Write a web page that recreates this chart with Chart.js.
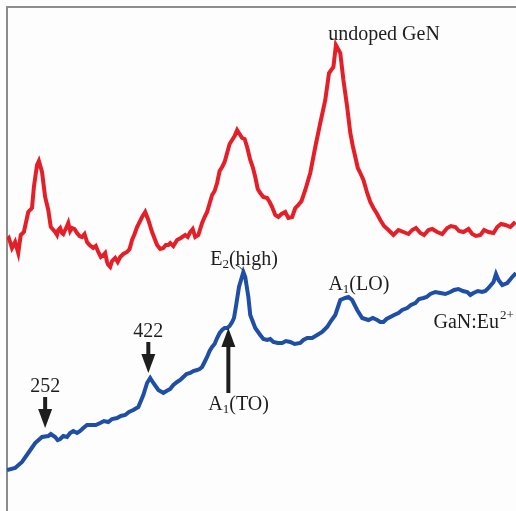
<!DOCTYPE html>
<html>
<head>
<meta charset="utf-8">
<script src="https://cdn.jsdelivr.net/npm/chart.js@4.4.1/dist/chart.umd.min.js"></script>
<style>
  html, body { margin: 0; padding: 0; background: #fdfdfd; }
  canvas { display: block; }
</style>
</head>
<body>
<canvas id="ramanChart" width="516" height="511"></canvas>
<script>
// Raman spectra: undoped GaN (red) and GaN:Eu2+ (blue), shift in cm-1, intensity in a.u.

var undopedShift = [
  190, 193, 198, 203, 208, 212, 217, 224, 230, 233,
  238, 241, 246, 251, 256, 260, 267, 270, 272, 275,
  278, 280, 283, 286, 288, 291, 294, 298, 302, 306,
  310, 314, 318, 322, 328, 332, 336, 340, 344, 347,
  350, 352, 355, 358, 363, 367, 371, 376, 382, 386,
  390, 394, 398, 406, 411, 416, 422, 430, 435, 440,
  444, 448, 451, 456, 462, 468, 475, 479, 483, 487,
  491, 496, 502, 506, 510, 518, 522, 526, 530, 534,
  538, 542, 546, 550, 554, 558, 566, 570, 574, 579,
  583, 587, 591, 595, 600, 606, 610, 614, 619, 624,
  629, 635, 640, 646, 651, 656, 661, 667, 675, 683,
  691, 699, 705, 712, 716, 723, 728, 734, 739, 743,
  747, 751, 755, 760, 766, 771, 776, 781, 787, 793,
  800, 808, 816, 824, 832, 838, 844, 851, 857, 864,
  870, 878, 886, 894, 900, 907, 913, 920, 928, 934,
  940, 947, 953, 960, 968, 974, 980, 987, 995, 1003
];
var undopedIntensity = [
  271, 273, 263, 269, 258, 276, 279, 299, 303, 324,
  346, 350, 339, 314, 301, 284, 279, 276, 281, 283,
  278, 277, 281, 285, 288, 280, 283, 282, 278, 275,
  274, 277, 269, 266, 263, 265, 259, 254, 256, 258,
  249, 246, 244, 250, 253, 249, 254, 257, 259, 262,
  271, 277, 284, 294, 299, 291, 279, 266, 262, 263,
  266, 266, 268, 265, 271, 273, 276, 274, 279, 282,
  274, 276, 288, 294, 299, 316, 320, 328, 340, 344,
  349, 358, 367, 371, 375, 381, 373, 372, 364, 351,
  344, 334, 322, 318, 314, 313, 309, 304, 296, 294,
  297, 299, 293, 294, 303, 306, 310, 321, 338, 364,
  388, 411, 438, 444, 466, 458, 431, 404, 378, 365,
  354, 343, 338, 331, 318, 309, 303, 298, 291, 285,
  281, 276, 281, 279, 277, 281, 283, 278, 276, 281,
  282, 279, 277, 283, 285, 284, 280, 279, 282, 277,
  275, 276, 281, 279, 278, 284, 287, 286, 284, 289
];

var dopedShift = [
  190, 203, 214, 224, 235, 246, 256, 260, 267, 271,
  275, 280, 286, 291, 296, 302, 307, 312, 318, 326,
  332, 339, 345, 352, 358, 366, 372, 379, 385, 392,
  400, 408, 414, 419, 424, 432, 440, 445, 451, 456,
  462, 467, 472, 477, 483, 488, 494, 498, 502, 506,
  510, 514, 518, 522, 526, 530, 534, 538, 542, 546,
  550, 553, 556, 561, 568, 571, 576, 579, 587, 595,
  600, 606, 611, 616, 623, 630, 636, 643, 650, 659,
  664, 670, 678, 686, 694, 702, 708, 715, 723, 731,
  736, 742, 750, 758, 768, 775, 782, 787, 792, 797,
  803, 809, 816, 822, 830, 836, 843, 849, 856, 861,
  867, 875, 883, 891, 899, 905, 912, 919, 926, 931,
  936, 943, 950, 955, 960, 968, 972, 976, 982, 990,
  998, 1004
];
var dopedIntensity = [
  41, 43, 49, 58, 68, 74, 75, 77, 74, 71,
  72, 75, 74, 78, 80, 78, 80, 83, 86, 86,
  86, 88, 90, 89, 92, 93, 95, 96, 99, 101,
  104, 116, 128, 133, 128, 121, 118, 120, 122, 126,
  129, 131, 134, 137, 138, 140, 141, 142, 144, 149,
  154, 160, 164, 167, 173, 178, 181, 183, 183, 185,
  189, 193, 204, 224, 239, 234, 214, 196, 183, 176,
  172, 171, 172, 169, 168, 168, 170, 169, 167, 168,
  171, 173, 173, 176, 179, 184, 190, 196, 211, 213,
  214, 211, 201, 193, 191, 193, 191, 189, 189, 192,
  194, 196, 198, 201, 203, 206, 208, 212, 213, 214,
  217, 219, 218, 217, 219, 221, 222, 220, 219, 216,
  218, 220, 219, 220, 223, 229, 237, 231, 226, 228,
  234, 238
];

// annotation texts, anchored in data units (shift, intensity)
var labelText  = ['undoped GeN', 'GaN:Eu', 'A', 'E', 'A', '422', '252'];
var labelSub   = ['', '', '1', '2', '1', '', ''];
var labelTail  = ['', '', '(LO)', '(high)', '(TO)', '', ''];
var labelSup   = ['', '2+', '', '', '', '', ''];
var labelShift = [793, 872, 704, 515, 512, 416, 251];
var labelLevel = [476, 188, 226, 251, 106, 179, 124];
var labelAlign = ['center', 'left', 'left', 'left', 'left', 'center', 'center'];

// peak marker arrows: from level to tip level
var arrowShift = [251, 416, 544];
var arrowFrom  = [114, 169, 118];
var arrowTo    = [83, 138, 183];

function toPoints(xs, ys) {
  var pts = [];
  for (var i = 0; i < xs.length; i++) {
    pts.push({ x: xs[i], y: ys[i] });
  }
  return pts;
}

var framePlugin = {
  id: 'frame',
  beforeDatasetsDraw: function (chart) {
    var ctx = chart.ctx;
    var area = chart.chartArea;
    ctx.save();
    ctx.strokeStyle = '#8c8c8c';
    ctx.lineWidth = 2;
    ctx.beginPath();
    ctx.moveTo(area.left, area.bottom);
    ctx.lineTo(area.left, area.top);
    ctx.lineTo(area.right, area.top);
    ctx.stroke();
    ctx.restore();
  }
};

function drawLabel(ctx, i, px, py) {
  var mainFont = '20px "Liberation Serif", "DejaVu Serif", serif';
  var smallFont = '13px "Liberation Serif", "DejaVu Serif", serif';
  ctx.font = mainFont;
  var w1 = ctx.measureText(labelText[i]).width;
  var w3 = ctx.measureText(labelTail[i]).width;
  ctx.font = smallFont;
  var w2 = ctx.measureText(labelSub[i]).width;
  var w4 = ctx.measureText(labelSup[i]).width;
  var total = w1 + w2 + w3 + w4;
  var x = px;
  if (labelAlign[i] === 'center') x = px - total / 2;

  ctx.textBaseline = 'middle';
  ctx.textAlign = 'left';
  ctx.font = mainFont;
  ctx.fillText(labelText[i], x, py);
  x += w1;
  if (labelSub[i]) {
    ctx.font = smallFont;
    ctx.fillText(labelSub[i], x, py + 5);
    x += w2;
  }
  if (labelTail[i]) {
    ctx.font = mainFont;
    ctx.fillText(labelTail[i], x, py);
    x += w3;
  }
  if (labelSup[i]) {
    ctx.font = smallFont;
    ctx.fillText(labelSup[i], x + 1, py - 7);
  }
}

var annotationPlugin = {
  id: 'annotations',
  afterDatasetsDraw: function (chart) {
    var ctx = chart.ctx;
    var xs = chart.scales.x;
    var ys = chart.scales.y;
    ctx.save();
    ctx.fillStyle = '#1e1e1e';
    ctx.strokeStyle = '#1e1e1e';

    for (var i = 0; i < labelText.length; i++) {
      drawLabel(ctx, i, xs.getPixelForValue(labelShift[i]), ys.getPixelForValue(labelLevel[i]));
    }

    for (var j = 0; j < arrowShift.length; j++) {
      var ax = xs.getPixelForValue(arrowShift[j]);
      var y0 = ys.getPixelForValue(arrowFrom[j]);
      var y1 = ys.getPixelForValue(arrowTo[j]);
      var dir = y1 > y0 ? 1 : -1;
      var headLen = 19;
      var base = y1 - dir * headLen;
      ctx.lineWidth = 4;
      ctx.beginPath();
      ctx.moveTo(ax, y0);
      ctx.lineTo(ax, base);
      ctx.stroke();
      ctx.beginPath();
      ctx.moveTo(ax - 7, base);
      ctx.lineTo(ax + 7, base);
      ctx.lineTo(ax, y1);
      ctx.closePath();
      ctx.fill();
    }

    // short leader from the E2(high) label to its peak
    var lx = xs.getPixelForValue(562);
    var ly = ys.getPixelForValue(243);
    ctx.lineWidth = 1;
    ctx.beginPath();
    ctx.moveTo(lx - 4, ly - 3);
    ctx.quadraticCurveTo(lx, ly - 2, lx + 3, ly + 2);
    ctx.stroke();
    ctx.restore();
  }
};

var config = {
  type: 'line',
  data: {
    datasets: [
      {
        label: 'undoped GaN',
        data: toPoints(undopedShift, undopedIntensity),
        borderColor: '#e51f27',
        borderWidth: 4,
        pointRadius: 0,
        fill: false,
        tension: 0
      },
      {
        label: 'GaN:Eu2+',
        data: toPoints(dopedShift, dopedIntensity),
        borderColor: '#1f4ea6',
        borderWidth: 4,
        pointRadius: 0,
        fill: false,
        tension: 0
      }
    ]
  },
  options: {
    responsive: false,
    animation: false,
    devicePixelRatio: 1,
    layout: { padding: { left: 7, top: 7, right: 0, bottom: 0 } },
    plugins: {
      legend: { display: false },
      tooltip: { enabled: false }
    },
    scales: {
      x: { type: 'linear', min: 190, max: 1004, display: false },
      y: { type: 'linear', min: 0, max: 504, display: false }
    }
  },
  plugins: [framePlugin, annotationPlugin]
};

new Chart(document.getElementById('ramanChart').getContext('2d'), config);
</script>
</body>
</html>
